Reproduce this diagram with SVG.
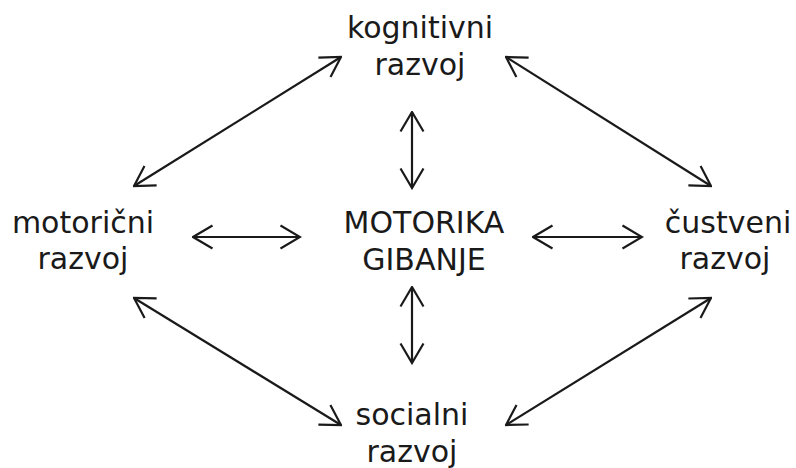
<svg xmlns="http://www.w3.org/2000/svg" width="796" height="468" viewBox="0 0 796 468">
<style>
text{font-family:"DejaVu Sans",Verdana,sans-serif;font-size:30px;fill:#1a1a1a;text-anchor:middle}
.c line{stroke:#1a1a1a;stroke-width:2.2;marker-start:url(#ah);marker-end:url(#ah)}
</style>
<defs>
<marker id="ah" viewBox="0 0 22 26" refX="20.5" refY="13" markerWidth="22" markerHeight="26" markerUnits="userSpaceOnUse" orient="auto-start-reverse">
<path d="M1,1.5 L20.5,13 L1,24.5" fill="none" stroke="#1a1a1a" stroke-width="2.2"/>
</marker>
</defs>
<rect width="796" height="468" fill="#fff"/>
<g id="kognitivni"><text x="420" y="38">kognitivni</text><text x="420" y="75">razvoj</text></g>
<g id="motoricni"><text x="83" y="233">motorični</text><text x="83" y="269">razvoj</text></g>
<g id="motorika"><text x="424" y="233">MOTORIKA</text><text x="424" y="270">GIBANJE</text></g>
<g id="custveni"><text x="728" y="233">čustveni</text><text x="725" y="269">razvoj</text></g>
<g id="socialni"><text x="412" y="425">socialni</text><text x="412" y="462">razvoj</text></g>
<g class="c" id="connectors">
<line x1="134" y1="186" x2="341" y2="57"/>
<line x1="506" y1="57" x2="711" y2="186"/>
<line x1="134" y1="298" x2="341" y2="425"/>
<line x1="506" y1="425" x2="711" y2="298"/>
<line x1="193" y1="237" x2="300" y2="237"/>
<line x1="533" y1="237" x2="642" y2="237"/>
<line x1="412" y1="112" x2="412" y2="188"/>
<line x1="412" y1="287" x2="412" y2="363"/>
</g>
</svg>
